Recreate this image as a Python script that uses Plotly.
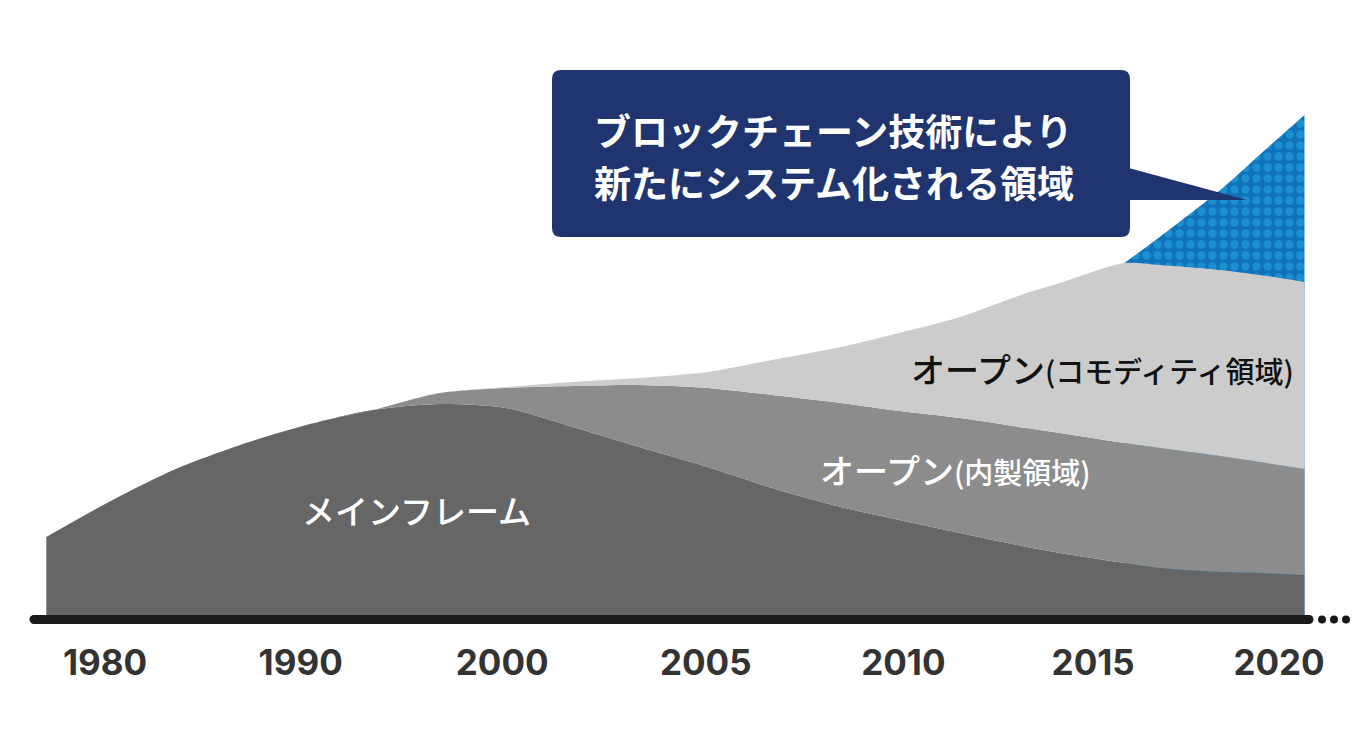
import plotly.graph_objects as go

# ---- data ----
years = ["1980", "1990", "2000", "2005", "2010", "2015", "2020"]
# label positions as placed in the reference (tick units, 0 = 1980)
year_pos = [0, 1, 2.03, 3.07, 4.08, 5.05, 6.0]

# sample positions along the time axis (in tick units, 0 = 1980, 6 = 2020)
pos = [-0.30, 0.01, 0.35, 0.69, 1.03, 1.37, 1.71, 2.05, 2.39, 2.73, 3.08,
       3.41, 3.76, 4.06, 4.37, 4.71, 4.88, 5.21, 5.39, 5.70, 5.90, 6.13]

mainframe = [78, 112, 145, 170, 190, 205, 211, 207, 188, 168, 148,
             127, 108, 95, 82, 68, 62, 52, 47, 43, 42, 40]
open_inhouse = [0, 0, 0, 0, 0, 0, 11, 20, 41, 62, 79,
                93, 104, 109, 115, 119, 120, 120, 120, 116, 111, 106]
open_commodity = [0, 0, 0, 0, 0, 0, 0, 1, 4, 7, 16,
                  35, 56, 78, 101, 135, 150, 180, 183, 186, 187, 187]
blockchain = [0, 0, 0, 0, 0, 0, 0, 0, 0, 0, 0,
              0, 0, 0, 0, 0, 0, 0, 28, 80, 120, 167]

series_names = ["メインフレーム", "オープン(内製領域)", "オープン(コモディティ領域)",
                "ブロックチェーン"]

# ---- helpers for decorative placement (reference pixel -> data) ----
PX0, PXU = 105.0, 195.67
BODY = 8  # page margin around the figure in the browser


def X(px):
    return (px - PX0) / PXU


def Y(py):
    return 615 - py


fig = go.Figure()

spl = dict(width=0, shape="spline", smoothing=0.8)

# blockchain area: drawn first as the stack total over the span where it
# exists; the grey layers drawn afterwards cover everything below their top.
total = [m + i + c + b for m, i, c, b in
         zip(mainframe, open_inhouse, open_commodity, blockchain)]
first = next(k for k in range(1, len(blockchain)) if blockchain[k] > 0) - 1
fig.add_trace(go.Scatter(x=pos[first:], y=total[first:], name=series_names[3],
                         mode="lines", fill="tozeroy", hoverinfo="skip",
                         line=spl, fillcolor="#0f72bb",
                         fillpattern=dict(shape=".", bgcolor="#0f72bb",
                                          fgcolor="#2aaee4", size=11,
                                          solidity=0.45)))

common = dict(mode="lines", stackgroup="one", hoverinfo="skip", line=spl)
fig.add_trace(go.Scatter(x=pos, y=mainframe, name=series_names[0],
                         fillcolor="#666666", **common))
fig.add_trace(go.Scatter(x=pos, y=open_inhouse, name=series_names[1],
                         fillcolor="#8c8c8c", **common))
fig.add_trace(go.Scatter(x=pos, y=open_commodity, name=series_names[2],
                         fillcolor="#cccccc", **common))

shapes = []
# baseline
ax_y = 619.5
shapes.append(dict(type="line", xref="x", yref="y", x0=X(34), x1=X(1309),
                   y0=Y(ax_y), y1=Y(ax_y), line=dict(color="#1a1a1a", width=9)))
for cx, d in [(34, 9), (1309, 9), (1322, 8), (1334, 8), (1346, 8)]:
    shapes.append(dict(type="circle", xref="x", yref="y",
                       x0=X(cx - d / 2), x1=X(cx + d / 2),
                       y0=Y(ax_y + d / 2), y1=Y(ax_y - d / 2),
                       fillcolor="#1a1a1a", line=dict(width=0)))

# callout box
l, r_, t, b, rad = 552, 1130, 70, 237, 9


def P(px, py):
    return f"{X(px)},{Y(py)}"


box = (f"M {P(l + rad, t)} L {P(r_ - rad, t)} Q {P(r_, t)} {P(r_, t + rad)} "
       f"L {P(r_, b - rad)} Q {P(r_, b)} {P(r_ - rad, b)} "
       f"L {P(l + rad, b)} Q {P(l, b)} {P(l, b - rad)} "
       f"L {P(l, t + rad)} Q {P(l, t)} {P(l + rad, t)} Z")
shapes.append(dict(type="path", xref="x", yref="y", path=box,
                   fillcolor="#203570", line=dict(width=0)))
tri = f"M {P(1125, 167)} L {P(1247, 200)} L {P(1125, 200)} Z"
shapes.append(dict(type="path", xref="x", yref="y", path=tri,
                   fillcolor="#203570", line=dict(width=0)))

JP = "Noto Sans CJK JP"
annotations = [
    dict(x=X(416), y=Y(510), text="メインフレーム",
         font=dict(family=JP, size=33, color="white", weight=500)),
    dict(x=X(955), y=Y(469),
         text="オープン<span style='font-size:29px'>(内製領域)</span>",
         font=dict(family=JP, size=34, color="white", weight=500)),
    dict(x=X(1102), y=Y(368),
         text="オープン<span style='font-size:29px'>(コモディティ領域)</span>",
         font=dict(family=JP, size=34, color="#111111", weight=500)),
    dict(x=X(592), y=Y(130), xanchor="left", text="ブロックチェーン技術により",
         font=dict(family=JP, size=37, color="white", weight="bold")),
    dict(x=X(592), y=Y(182), xanchor="left", text="新たにシステム化される領域",
         font=dict(family=JP, size=37, color="white", weight="bold")),
]
for a in annotations:
    a.update(xref="x", yref="y", showarrow=False)
    a.setdefault("xanchor", "center")
    a["yanchor"] = "middle"

fig.update_layout(
    width=1360, height=734,
    margin=dict(l=0, r=0, t=0, b=100),
    paper_bgcolor="white", plot_bgcolor="white",
    showlegend=False,
    shapes=shapes, annotations=annotations,
    xaxis=dict(range=[X(BODY), X(1360 + BODY)], showgrid=False,
               zeroline=False, showline=False, ticks="",
               tickvals=year_pos, ticktext=years,
               tickfont=dict(family="Inter", size=35, color="#333333",
                             weight="bold"),
               ticklabelstandoff=-3, fixedrange=True),
    yaxis=dict(range=[Y(634 + BODY), Y(BODY)], visible=False,
               fixedrange=True),
)

fig.write_html("out.html")
